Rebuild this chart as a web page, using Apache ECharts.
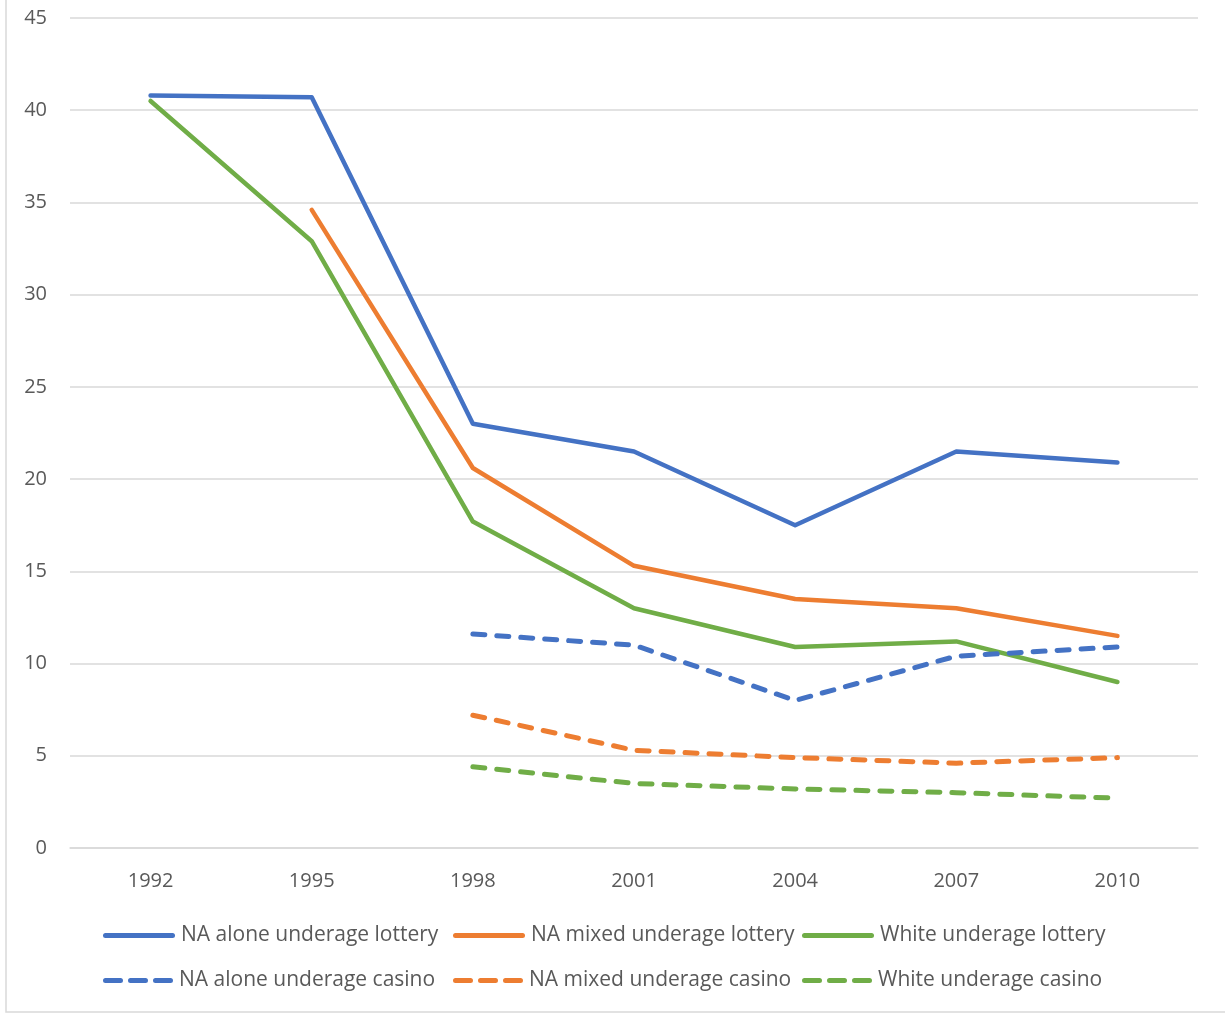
<!DOCTYPE html>
<html>
<head>
<meta charset="utf-8">
<script src="https://cdn.jsdelivr.net/npm/echarts@6/dist/echarts.min.js"></script>
<style>
  html, body { margin: 0; padding: 0; background: #fff; }
  #chart { width: 1225px; height: 1015px; }
</style>
</head>
<body>
<div id="chart"></div>
<script>
// Survey years
const years = ['1992', '1995', '1998', '2001', '2004', '2007', '2010'];

// Underage gambling rates (%)
const naAloneLottery = [40.8, 40.7, 23.0, 21.5, 17.5, 21.5, 20.9];
const naMixedLottery = [null, 34.6, 20.6, 15.3, 13.5, 13.0, 11.5];
const whiteLottery   = [40.5, 32.9, 17.7, 13.0, 10.9, 11.2, 9.0];
const naAloneCasino  = [null, null, 11.6, 11.0, 8.0, 10.4, 10.9];
const naMixedCasino  = [null, null, 7.2, 5.3, 4.9, 4.6, 4.9];
const whiteCasino    = [null, null, 4.4, 3.5, 3.2, 3.0, 2.7];

const seriesNames = [
  'NA alone underage lottery', 'NA mixed underage lottery', 'White underage lottery',
  'NA alone underage casino', 'NA mixed underage casino', 'White underage casino'
];

const BLUE = '#4472C4', ORANGE = '#ED7D31', GREEN = '#70AD47';
const FONT = '"Open Sans", "Liberation Sans", sans-serif';
const TEXT = '#595959';

// Legend keys: a rounded bar for solid lines, three rounded dashes for dashed lines
const SOLID_ICON = 'path://M2.5,0 L69.5,0 A2.5,2.5 0 0 1 69.5,5 L2.5,5 A2.5,2.5 0 0 1 2.5,0 Z';
const DASH_ICON = 'path://' +
  'M2.5,0 L17.5,0 A2.5,2.5 0 0 1 17.5,5 L2.5,5 A2.5,2.5 0 0 1 2.5,0 Z ' +
  'M27.5,0 L42.5,0 A2.5,2.5 0 0 1 42.5,5 L27.5,5 A2.5,2.5 0 0 1 27.5,0 Z ' +
  'M52.5,0 L67.5,0 A2.5,2.5 0 0 1 67.5,5 L52.5,5 A2.5,2.5 0 0 1 52.5,0 Z';

function lineSeries(name, data, color, dashed) {
  return {
    name: name,
    type: 'line',
    data: data,
    symbol: 'none',
    connectNulls: false,
    lineStyle: {
      color: color,
      width: dashed ? 5 : 4.5,
      type: dashed ? [12, 12] : 'solid',
      cap: 'round',
      join: 'round'
    },
    itemStyle: { color: color }
  };
}

// Legend placed as a 3x2 grid
const legendCols = [103, 453, 802];
const legendRows = [925, 970];
const legends = seriesNames.map((n, i) => {
  const dashed = i >= 3;
  return {
    data: [{ name: n, icon: dashed ? DASH_ICON : SOLID_ICON }],
    left: legendCols[i % 3],
    top: legendRows[Math.floor(i / 3)],
    padding: 0,
    itemWidth: dashed ? 70 : 72,
    itemHeight: 5,
    itemGap: 0,
    textStyle: { fontFamily: FONT, fontSize: 21, color: TEXT, padding: [0, 0, 0, 1] },
    selectedMode: false
  };
});

const chart = echarts.init(document.getElementById('chart'), null, { renderer: 'canvas' });
chart.setOption({
  animation: false,
  backgroundColor: '#fff',
  graphic: [{
    type: 'rect',
    shape: { x: 6, y: -5, width: 1230, height: 1017 },
    style: { fill: 'none', stroke: '#D9D9D9', lineWidth: 1.5 },
    silent: true,
    z: -1
  }],
  grid: { left: 70, right: 27, top: 18, bottom: 167, containLabel: false },
  legend: legends,
  xAxis: {
    type: 'category',
    data: years,
    boundaryGap: true,
    axisLine: { show: true, lineStyle: { color: '#D9D9D9', width: 1.5 } },
    axisTick: { show: false },
    axisLabel: { color: TEXT, fontFamily: FONT, fontSize: 20, margin: 23 }
  },
  yAxis: {
    type: 'value',
    min: 0,
    max: 45,
    interval: 5,
    axisLine: { show: false },
    axisTick: { show: false },
    splitLine: { lineStyle: { color: '#D9D9D9', width: 1.5 } },
    axisLabel: { color: TEXT, fontFamily: FONT, fontSize: 20, margin: 23 }
  },
  series: [
    lineSeries(seriesNames[0], naAloneLottery, BLUE, false),
    lineSeries(seriesNames[1], naMixedLottery, ORANGE, false),
    lineSeries(seriesNames[2], whiteLottery, GREEN, false),
    lineSeries(seriesNames[3], naAloneCasino, BLUE, true),
    lineSeries(seriesNames[4], naMixedCasino, ORANGE, true),
    lineSeries(seriesNames[5], whiteCasino, GREEN, true)
  ]
});
</script>
</body>
</html>
